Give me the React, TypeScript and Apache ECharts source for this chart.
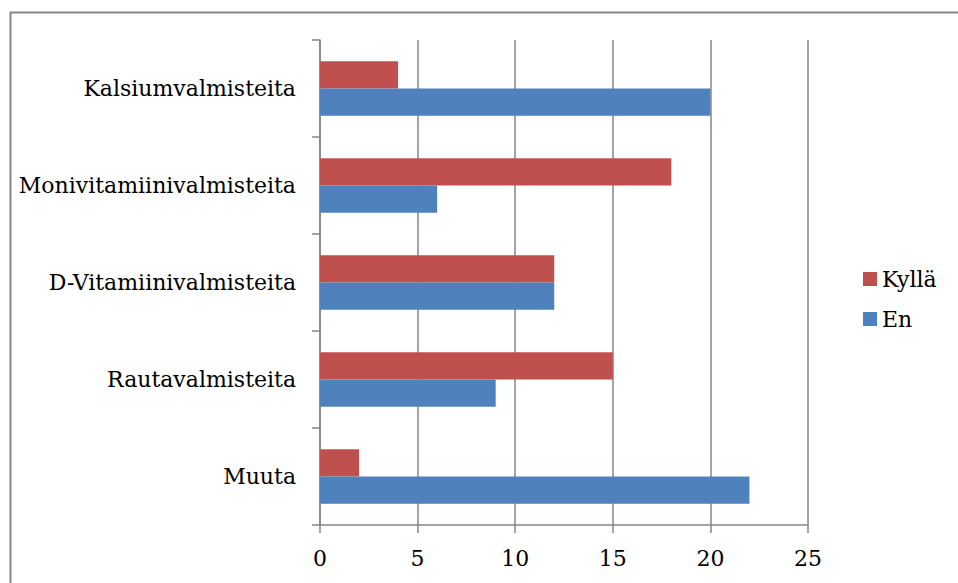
import React, { useEffect, useRef } from "react";
import * as echarts from "echarts";

// Categories from bottom to top, as they appear on the vertical axis
const categories = [
  "Muuta",
  "Rautavalmisteita",
  "D-Vitamiinivalmisteita",
  "Monivitamiinivalmisteita",
  "Kalsiumvalmisteita",
];
const kyllaValues = [2, 15, 12, 18, 4];
const enValues = [22, 9, 12, 6, 20];
const seriesNames = ["Kyllä", "En"];

const RED = "#C0504D";
const BLUE = "#4F81BD";
const GRAY = "#868686";
const FONT = "DejaVu Serif";

export default function App() {
  const ref = useRef<HTMLDivElement>(null);

  useEffect(() => {
    if (!ref.current) return;
    const chart = echarts.init(ref.current, undefined, { renderer: "svg" });
    chart.setOption({
      animation: false,
      backgroundColor: "#ffffff",
      textStyle: { fontFamily: FONT, color: "#000" },
      graphic: [
        {
          type: "rect",
          left: 8,
          top: 10,
          shape: { width: 1000, height: 1000 },
          style: { fill: "none", stroke: GRAY, lineWidth: 2 },
          silent: true,
        },
      ],
      grid: { left: 320, right: 150, top: 40, bottom: 58 },
      legend: {
        orient: "vertical",
        left: 863,
        top: 266,
        padding: 0,
        data: seriesNames,
        icon: "rect",
        itemWidth: 14,
        itemHeight: 14,
        itemGap: 14,
        textStyle: { fontFamily: FONT, fontSize: 22, lineHeight: 26, color: "#000" },
      },
      xAxis: {
        type: "value",
        min: 0,
        max: 25,
        interval: 5,
        axisLine: { show: true, lineStyle: { color: GRAY, width: 1.5 } },
        axisTick: { show: true, length: 8, lineStyle: { color: GRAY, width: 1.5 } },
        splitLine: { show: true, lineStyle: { color: GRAY, width: 1.5 } },
        axisLabel: { fontFamily: FONT, fontSize: 22, color: "#000", margin: 22 },
      },
      yAxis: {
        type: "category",
        data: categories,
        axisLine: { show: true, lineStyle: { color: GRAY, width: 1.5 } },
        axisTick: { show: true, length: 8, lineStyle: { color: GRAY, width: 1.5 } },
        axisLabel: { fontFamily: FONT, fontSize: 22, color: "#000", margin: 24 },
      },
      series: [
        {
          name: "Kyllä",
          type: "bar",
          data: kyllaValues,
          itemStyle: { color: RED },
          barGap: "0%",
          barCategoryGap: "44%",
        },
        {
          name: "En",
          type: "bar",
          data: enValues,
          itemStyle: { color: BLUE },
          barGap: "0%",
          barCategoryGap: "44%",
        },
      ],
    });
    return () => chart.dispose();
  }, []);

  return (
    <div
      ref={ref}
      style={{ position: "fixed", left: 0, top: 0, width: 958, height: 583 }}
    />
  );
}
